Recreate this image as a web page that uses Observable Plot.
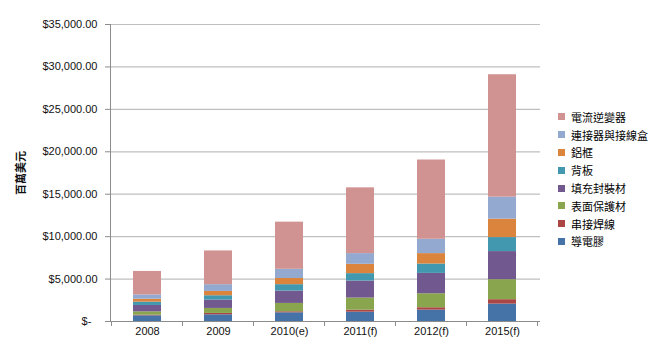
<!DOCTYPE html>
<html>
<head>
<meta charset="utf-8">
<script src="https://cdn.jsdelivr.net/npm/d3@7"></script>
<script src="https://cdn.jsdelivr.net/npm/@observablehq/plot@0.6"></script>
<style>
  body { margin: 0; background: #fff; }
  #wrap { position: relative; width: 662px; height: 358px; font-family: "Liberation Sans", Arial, "Noto Sans CJK TC", sans-serif; }
  #legend { position: absolute; left: 558px; top: 108px; font-size: 11px; color: #000; }
  .row { height: 17.8px; display: flex; align-items: center; white-space: nowrap; }
  .sw { width: 7px; height: 7px; margin-right: 6px; flex: none; }
</style>
</head>
<body>
<div id="wrap"></div>
<script>
const years = ["2008", "2009", "2010(e)", "2011(f)", "2012(f)", "2015(f)"];
const seriesNames = ["導電膠", "串接焊線", "表面保護材", "填充封裝材", "背板", "鋁框", "連接器與接線盒", "電流逆變器"];
const seriesColors = ["#4573A7", "#AA4643", "#89A54E", "#71588F", "#4198AF", "#DB843D", "#93A9CF", "#D19392"];
const conductiveGlue = [670, 790, 1025, 1100, 1340, 2050];
const ribbon = [80, 160, 120, 240, 280, 520];
const frontSheet = [390, 590, 985, 1420, 1650, 2360];
const encapsulant = [750, 985, 1460, 2010, 2400, 3310];
const backsheet = [390, 510, 750, 870, 1100, 1650];
const alFrame = [350, 510, 730, 1100, 1230, 2170];
const junctionBox = [510, 790, 1080, 1260, 1690, 2600];
const inverter = [2760, 3980, 5560, 7750, 9340, 14420];
const yTicks = [0, 5000, 10000, 15000, 20000, 25000, 30000, 35000];

const seriesValues = [conductiveGlue, ribbon, frontSheet, encapsulant, backsheet, alFrame, junctionBox, inverter];
const data = [];
seriesNames.forEach((name, si) => {
  years.forEach((yr, i) => data.push({year: yr, series: name, value: seriesValues[si][i]}));
});

const fmt = d3.format(",.2f");
const font = "Liberation Sans, Arial, Noto Sans CJK TC, sans-serif";

const chart = Plot.plot({
  width: 662,
  height: 358,
  marginLeft: 110,
  marginRight: 122,
  marginTop: 24,
  marginBottom: 37,
  style: {fontFamily: font, fontSize: "11px", color: "#000", background: "#fff", overflow: "visible"},
  x: {domain: years, paddingInner: 0.6, paddingOuter: 0.3, label: null},
  y: {domain: [0, 35000], label: null},
  color: {domain: seriesNames, range: seriesColors},
  marks: [
    Plot.ruleY(yTicks.slice(1), {stroke: "#BFBFBF", strokeWidth: 1.2}),
    Plot.barY(data, {x: "year", y: "value", fill: "series", order: seriesNames}),
    Plot.ruleY([0], {stroke: "#8C8C8C"}),
    Plot.frame({anchor: "left", stroke: "#8C8C8C"}),
    Plot.axisY({ticks: yTicks, tickSize: 5, tickPadding: 8, stroke: "#8C8C8C",
      tickFormat: d => d === 0 ? "$-\u2007" : "$" + fmt(d), label: null, fill: "#111"}),
    Plot.axisX({tickSize: 0, tickPadding: 6, label: null, fill: "#111"}),
    Plot.text(["百萬美元"], {frameAnchor: "left", dx: -89, rotate: -90, textAnchor: "middle",
      lineAnchor: "middle", fontWeight: "bold", fontSize: 11, fill: "#111"})
  ]
});

// boundary tick marks on the category axis, positioned from the band scale
const sx = chart.scale("x");
const sy = chart.scale("y");
const y0 = sy.apply(0);
const bounds = years.map(yr => sx.apply(yr) - (sx.step - sx.bandwidth) / 2);
bounds.push(sx.apply(years[years.length - 1]) + sx.bandwidth + (sx.step - sx.bandwidth) / 2);
d3.select(chart).append("g")
  .selectAll("line").data(bounds).join("line")
  .attr("x1", d => d).attr("x2", d => d)
  .attr("y1", y0).attr("y2", y0 + 5)
  .attr("stroke", "#8C8C8C");

const wrap = document.getElementById("wrap");
wrap.appendChild(chart);

const legend = document.createElement("div");
legend.id = "legend";
for (let i = seriesNames.length - 1; i >= 0; i--) {
  const row = document.createElement("div");
  row.className = "row";
  const sw = document.createElement("span");
  sw.className = "sw";
  sw.style.background = seriesColors[i];
  const tx = document.createElement("span");
  tx.textContent = seriesNames[i];
  row.appendChild(sw);
  row.appendChild(tx);
  legend.appendChild(row);
}
wrap.appendChild(legend);
</script>
</body>
</html>
